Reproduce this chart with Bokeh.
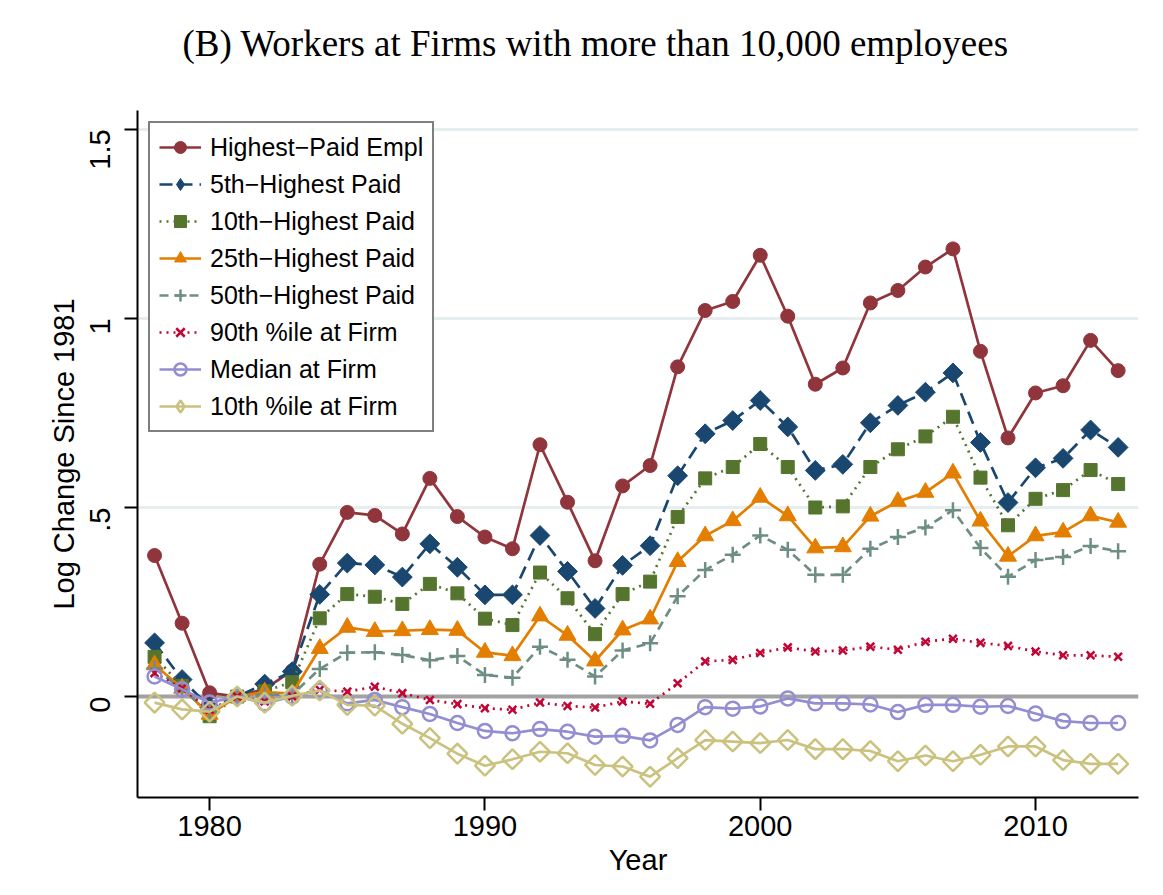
import math
from bokeh.plotting import figure
from bokeh.models import (Range1d, FixedTicker, Span, Legend, LegendItem, Title,
                          CustomJSTickFormatter)
from bokeh.embed import file_html
from bokeh.resources import INLINE

years = list(range(1978, 2014))

highest_paid = [0.373, 0.194, 0.010, 0.0, 0.020, 0.068, 0.350, 0.487, 0.479, 0.430,
                0.577, 0.476, 0.422, 0.391, 0.666, 0.514, 0.359, 0.557, 0.611, 0.872,
                1.021, 1.045, 1.167, 1.006, 0.826, 0.869, 1.041, 1.074, 1.136, 1.184,
                0.913, 0.684, 0.803, 0.822, 0.942, 0.862]
fifth_highest = [0.142, 0.045, -0.028, 0.0, 0.033, 0.066, 0.270, 0.353, 0.348, 0.316,
                 0.404, 0.342, 0.269, 0.269, 0.426, 0.331, 0.233, 0.347, 0.399, 0.584,
                 0.695, 0.730, 0.783, 0.713, 0.598, 0.614, 0.724, 0.770, 0.805, 0.856,
                 0.672, 0.513, 0.605, 0.630, 0.705, 0.659]
tenth_highest = [0.105, 0.028, -0.052, 0.0, 0.014, 0.038, 0.207, 0.271, 0.264, 0.245,
                 0.298, 0.273, 0.206, 0.189, 0.328, 0.260, 0.165, 0.271, 0.304, 0.475,
                 0.577, 0.607, 0.668, 0.607, 0.500, 0.503, 0.607, 0.654, 0.688, 0.740,
                 0.579, 0.453, 0.523, 0.546, 0.599, 0.562]
twentyfifth_highest = [0.084, 0.022, -0.047, 0.0, 0.012, 0.008, 0.127, 0.183, 0.172, 0.174,
                       0.177, 0.175, 0.117, 0.108, 0.213, 0.162, 0.094, 0.176, 0.205, 0.357,
                       0.425, 0.465, 0.527, 0.478, 0.393, 0.396, 0.477, 0.516, 0.540, 0.591,
                       0.464, 0.371, 0.425, 0.435, 0.478, 0.461]
fiftieth_highest = [0.075, 0.018, -0.040, 0.0, 0.005, 0.005, 0.073, 0.116, 0.117, 0.110,
                    0.096, 0.107, 0.057, 0.050, 0.132, 0.097, 0.053, 0.122, 0.141, 0.265,
                    0.335, 0.375, 0.426, 0.388, 0.322, 0.322, 0.391, 0.422, 0.447, 0.493,
                    0.393, 0.317, 0.361, 0.369, 0.398, 0.384]
p90_firm = [0.062, 0.022, -0.035, 0.0, -0.013, 0.0, 0.018, 0.013, 0.026, 0.009,
            -0.009, -0.020, -0.031, -0.035, -0.016, -0.025, -0.029, -0.013, -0.019, 0.035,
            0.093, 0.097, 0.115, 0.130, 0.119, 0.122, 0.132, 0.124, 0.145, 0.153,
            0.142, 0.134, 0.119, 0.109, 0.109, 0.105]
median_firm = [0.053, 0.019, -0.016, 0.0, -0.018, 0.0, 0.016, -0.018, -0.009, -0.028,
               -0.046, -0.070, -0.091, -0.097, -0.086, -0.093, -0.106, -0.104, -0.116, -0.075,
               -0.028, -0.032, -0.026, -0.005, -0.018, -0.018, -0.021, -0.041, -0.022, -0.022,
               -0.027, -0.025, -0.045, -0.065, -0.070, -0.070]
p10_firm = [-0.016, -0.034, -0.040, 0.0, -0.016, 0.002, 0.016, -0.022, -0.024, -0.072,
            -0.110, -0.151, -0.183, -0.166, -0.146, -0.150, -0.181, -0.185, -0.212, -0.163,
            -0.115, -0.119, -0.123, -0.115, -0.139, -0.139, -0.144, -0.171, -0.156, -0.171,
            -0.154, -0.132, -0.132, -0.168, -0.178, -0.178]

labels = ["Highest\u2212Paid Empl", "5th\u2212Highest Paid", "10th\u2212Highest Paid",
          "25th\u2212Highest Paid", "50th\u2212Highest Paid", "90th %ile at Firm",
          "Median at Firm", "10th %ile at Firm"]
y_ticks = [0, 0.5, 1, 1.5]
y_tick_labels = ["0", ".5", "1", "1.5"]
x_ticks = [1980, 1990, 2000, 2010]

title_text = "(B) Workers at Firms with more than 10,000 employees"

p = figure(width=1163, height=895, output_backend="svg", toolbar_location=None,
           x_range=Range1d(1977.38, 2013.74), y_range=Range1d(-0.267, 1.550),
           min_border_left=137, min_border_right=25, min_border_top=110,
           min_border_bottom=98)
p.outline_line_color = None
p.background_fill_color = "white"
p.border_fill_color = "white"

FONT = "Liberation Sans"

# axes
p.xaxis.ticker = FixedTicker(ticks=x_ticks)
p.yaxis.ticker = FixedTicker(ticks=y_ticks)
p.yaxis.formatter = CustomJSTickFormatter(
    args=dict(m={str(float(t)): s for t, s in zip(y_ticks, y_tick_labels)}),
    code="""
const k = Number(tick).toFixed(1);
return (k in m) ? m[k] : String(tick);
""")
for ax in (p.xaxis[0], p.yaxis[0]):
    ax.axis_line_width = 2
    ax.axis_line_color = "black"
    ax.major_tick_line_width = 2
    ax.major_tick_line_color = "black"
    ax.major_tick_out = 13
    ax.major_tick_in = 0
    ax.minor_tick_line_color = None
    ax.major_label_text_font = FONT
    ax.major_label_text_font_size = "29px"
    ax.major_label_text_color = "black"
    ax.axis_label_text_font = FONT
    ax.axis_label_text_font_size = "29px"
    ax.axis_label_text_font_style = "normal"
    ax.axis_label_text_color = "black"

p.xaxis.axis_label = "Year"
p.xaxis.major_label_standoff = 5
p.xaxis.axis_label_standoff = 5
p.yaxis.axis_label = "Log Change Since 1981"
p.yaxis.major_label_orientation = math.pi / 2
p.yaxis.major_label_standoff = 24
p.yaxis.axis_label_standoff = -2

p.xgrid.grid_line_color = None
p.ygrid.ticker = FixedTicker(ticks=[0.5, 1, 1.5])
p.ygrid.grid_line_color = "#e6eef0"
p.ygrid.grid_line_width = 3

zero = Span(location=0, dimension="width", line_color="#a2a2a2", line_width=4,
            level="underlay")
p.add_layout(zero)

series = [highest_paid, fifth_highest, tenth_highest, twentyfifth_highest,
          fiftieth_highest, p90_firm, median_firm, p10_firm]
colors = ["#90353b", "#1a476f", "#55752f", "#e37e00", "#6e8e84", "#c10534",
          "#938dd2", "#cac27e"]
dashes = ["solid", "13 7", "2 5", "solid", "9 6", "2 5", "solid", "solid"]
markers = ["circle", "square", "square", "triangle", "cross", "x", "circle", "square"]
legend_markers = ["circle", "diamond", "square", "triangle", "cross", "x", "circle", "diamond"]
angles = [0, math.pi / 4, 0, 0, 0, 0, 0, math.pi / 4]
sizes = [14, 14, 13, 17, 16, 11, 14, 14]
filled = [True, True, True, True, False, False, False, False]

items = []
for vals, col, dash, mk, lmk, ang, sz, fl, lab in zip(series, colors, dashes, markers,
                                                      legend_markers, angles, sizes,
                                                      filled, labels):
    lr = p.line(years, vals, line_color=col, line_width=2.7, line_dash=dash)
    if fl:
        style = dict(fill_color=col, line_color=col, line_width=1)
    else:
        style = dict(fill_color=None, line_color=col, line_width=2.5)
    sr = p.scatter(years, vals, marker=mk, size=sz, angle=ang, **style)
    if lmk != mk:
        # key-only proxy: zero-size markers on the plot, drawn only in the legend
        lg = p.scatter(years, vals, marker=lmk, size=0, **style)
        items.append(LegendItem(label=lab, renderers=[lr, lg]))
    else:
        items.append(LegendItem(label=lab, renderers=[lr, sr]))

legend = Legend(items=items, location="top_left")
legend.margin = 11
legend.padding = 9
legend.spacing = 7
legend.glyph_width = 42
legend.glyph_height = 30
legend.label_height = 30
legend.label_standoff = 9
legend.label_text_font = FONT
legend.label_text_font_size = "25px"
legend.label_text_color = "black"
legend.border_line_color = "black"
legend.border_line_width = 2
legend.background_fill_color = "white"
legend.background_fill_alpha = 1
p.add_layout(legend)

# spacer between the frame and the title, then the title itself
spacer = Title(text=" ", standoff=39, text_font_size="1px")
p.add_layout(spacer, "above")
title = Title(text=title_text, align="left", offset=45, standoff=10,
              text_font="Liberation Serif", text_font_size="37px",
              text_font_style="normal", text_color="black")
p.add_layout(title, "above")

open("out.html", "w").write(file_html(p, INLINE))
